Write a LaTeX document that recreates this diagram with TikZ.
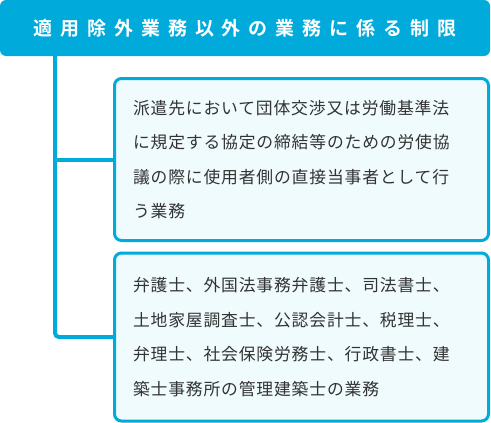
\documentclass[tikz,border=0pt]{standalone}
\usepackage{fontspec}
\setmainfont{Noto Sans CJK JP}
\newfontfamily\titlefont[LetterSpace=42]{Noto Sans CJK JP Bold}
\newfontfamily\bodyfont[LetterSpace=5]{Noto Sans CJK JP}
\definecolor{lineCyan}{RGB}{0, 170, 219}
\definecolor{paleCyan}{RGB}{240, 251, 254}
\definecolor{textGray}{RGB}{51, 51, 51}
\usetikzlibrary{positioning,calc}

\begin{document}
\begin{tikzpicture}[x=1pt,y=-1pt,
                heading/.style={rounded corners=6pt,fill=lineCyan,minimum width=490pt,minimum height=56pt,
                             text=white,font=\titlefont\fontsize{19pt}{19pt}\selectfont,inner sep=0pt},
                item/.style={draw=lineCyan,line width=3pt,rounded corners=7pt,fill=paleCyan,
                             minimum width=374pt,text width=337pt,align=left,inner sep=0pt,
                             text=textGray,font=\bodyfont\fontsize{16.8pt}{34.5pt}\selectfont},
                branch/.style={draw=lineCyan,line width=4pt,rounded corners=4pt}
            ]
                \useasboundingbox (0,0) rectangle (491,423);
                \node[heading] (title) at (245,28) {適用除外業務以外の業務に係る制限};
                \node[item,minimum height=162pt] (dispatch) at (301.5,159.5)
                    {派遣先において団体交渉又は労働基準法\\に規定する協定の締結等のための労使協\\議の際に使用者側の直接当事者として行\\う業務};
                \node[item,minimum height=168pt] (licensed) at (301.5,337)
                    {弁護士、外国法事務弁護士、司法書士、\\土地家屋調査士、公認会計士、税理士、\\弁理士、社会保険労務士、行政書士、建\\築士事務所の管理建築士の業務};
                % trunk and branches
                \coordinate (trunk) at (55,0);
                \draw[branch] (title.south -| trunk) |- (licensed.west);
                \draw[branch] (trunk |- dispatch.west) -- ([xshift=1pt]dispatch.west);
            \end{tikzpicture}
\end{document}
